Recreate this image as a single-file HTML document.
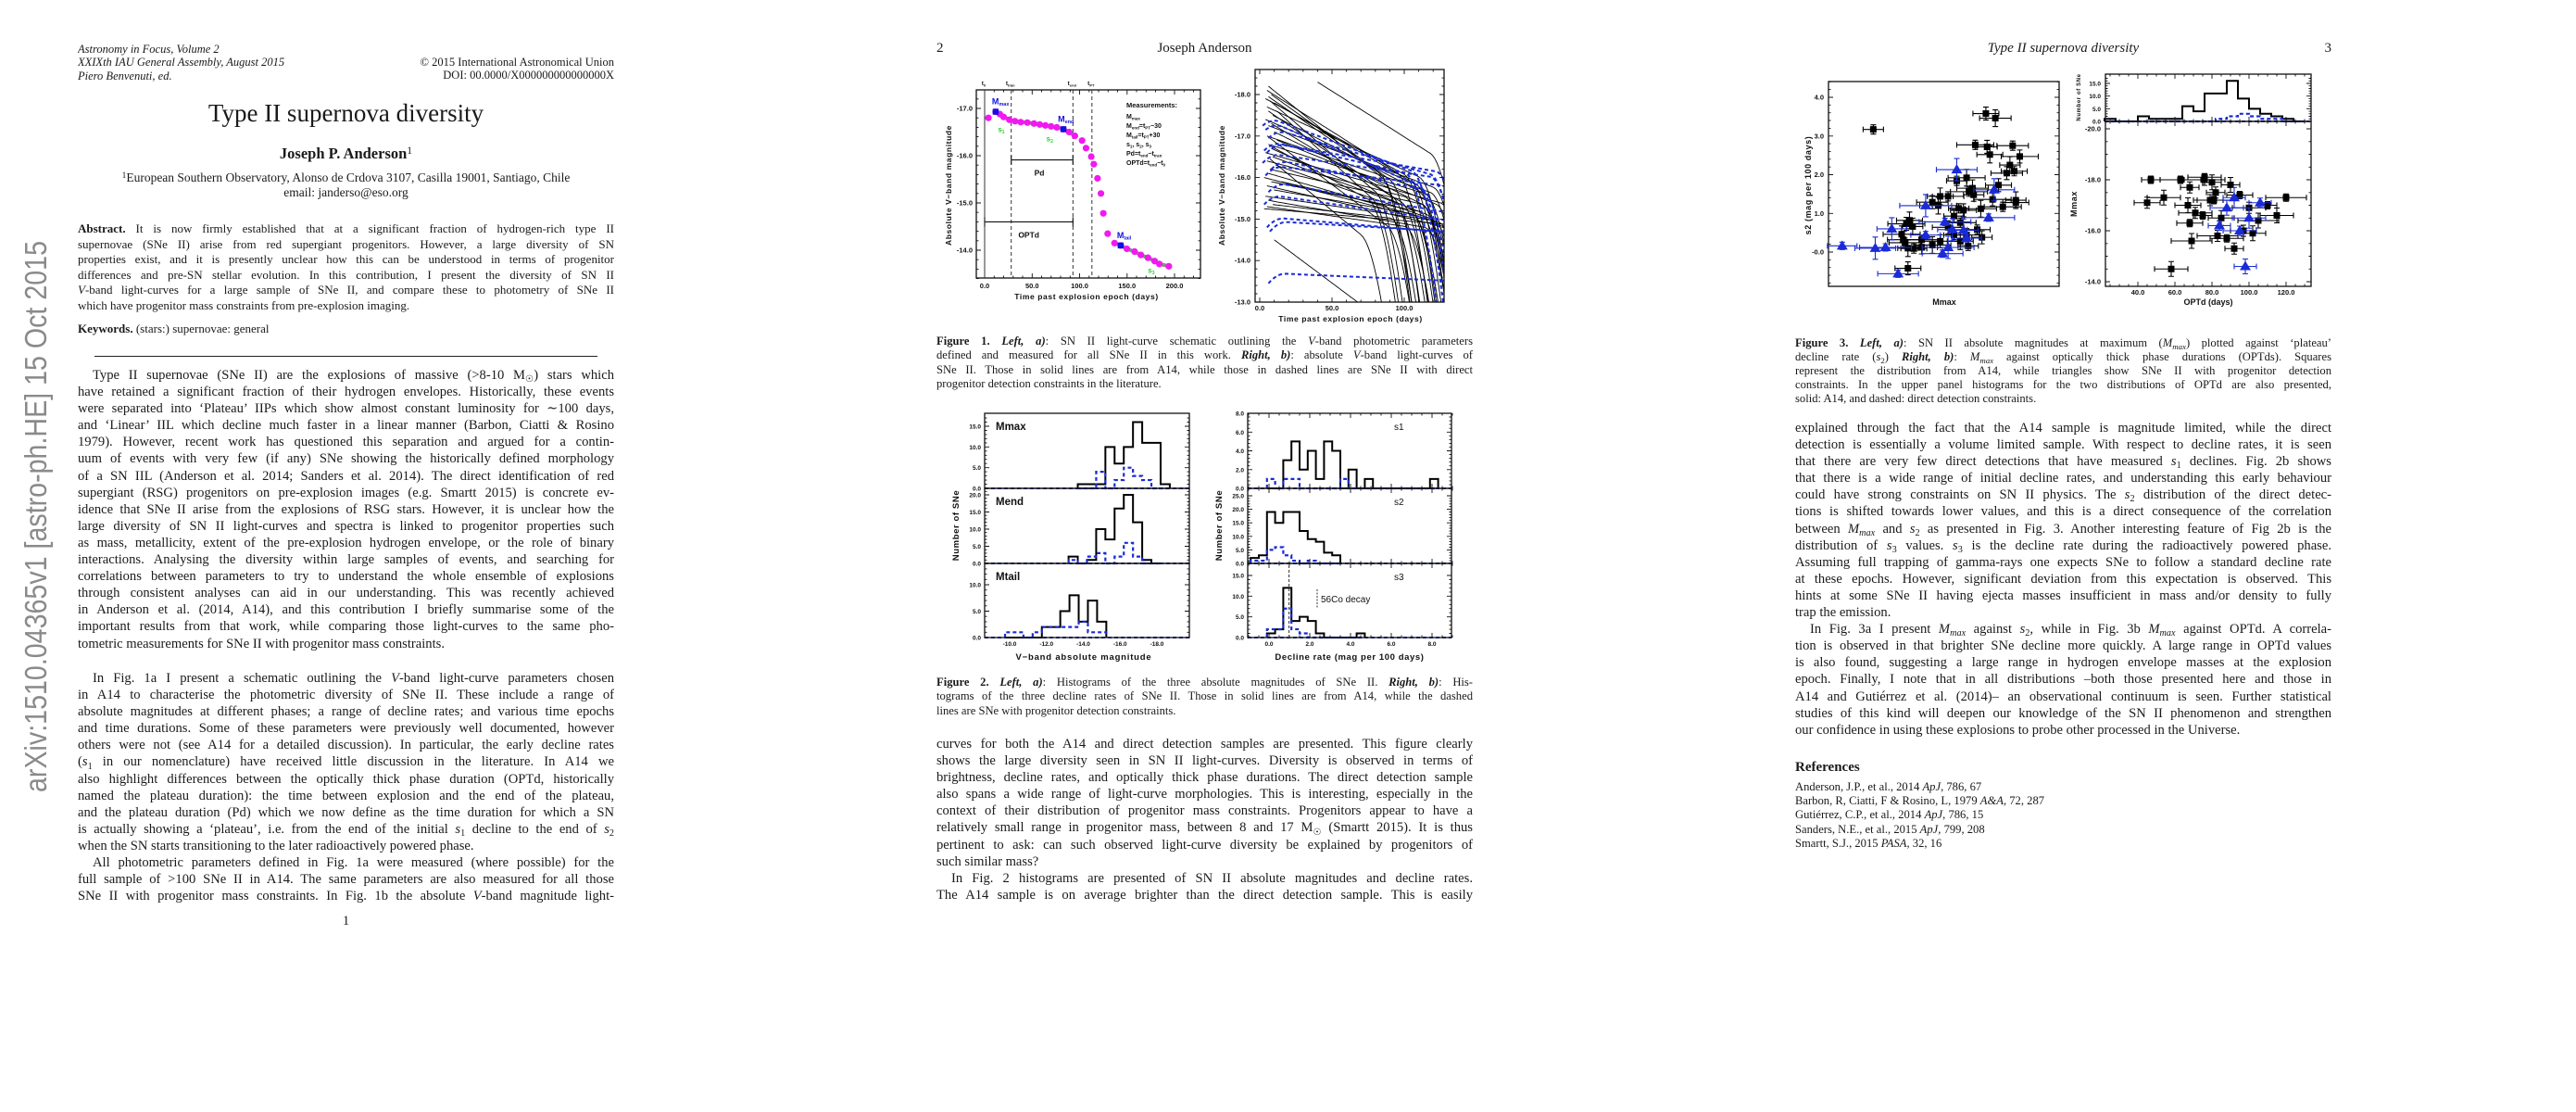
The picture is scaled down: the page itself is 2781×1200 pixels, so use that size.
<!DOCTYPE html>
<html><head><meta charset="utf-8">
<style>
html,body{margin:0;padding:0;background:#fff;}
body{width:2781px;height:1200px;position:relative;overflow:hidden;}
.p{position:absolute;font-family:"Liberation Serif","DejaVu Serif",serif;color:#1a1a1a;}
.p span{display:block;white-space:normal;overflow:hidden;text-align:justify;text-align-last:justify;}
.p span.e{text-align-last:left;}
.p span.i{text-indent:16px;}
.p sub,.p sup,.abs sub,.abs sup{font-size:70%;line-height:0;vertical-align:baseline;position:relative;}
.p sub,.abs sub{top:0.3em;}
.p sup,.abs sup{top:-0.45em;}
.b{font-weight:bold}
.it{font-style:italic}
.abs{position:absolute;font-family:"Liberation Serif",serif;color:#1a1a1a;white-space:nowrap;}
svg text{font-family:"Liberation Sans",sans-serif;}
</style></head>
<body>
<svg id="stamp" style="position:absolute;left:0;top:0" width="80" height="1200">
<text x="0" y="0" transform="translate(50,855) rotate(-90)" font-family="Liberation Serif, serif" font-size="33" fill="#8a8a8a" textLength="595" lengthAdjust="spacingAndGlyphs">arXiv:1510.04365v1  [astro-ph.HE]  15 Oct 2015</text>
</svg>

<!-- PAGE 1 -->
<div class="p it" style="left:84px;top:46px;width:300px;font-size:12.5px;line-height:14.3px;">
<span class="e">Astronomy in Focus, Volume 2</span><span class="e">XXIXth IAU General Assembly, August 2015</span><span class="e">Piero Benvenuti, ed.</span></div>
<div class="p" style="left:363px;top:60px;width:300px;font-size:12.5px;line-height:14.3px;text-align:right">
<span style="text-align:right;text-align-last:right">© 2015 International Astronomical Union</span><span style="text-align:right;text-align-last:right">DOI: 00.0000/X000000000000000X</span></div>
<div class="abs" style="left:84px;width:579px;text-align:center;top:107px;font-size:27px;">Type II supernova diversity</div>
<div class="abs b" style="left:84px;width:579px;text-align:center;top:156px;font-size:16.5px;">Joseph P. Anderson<sup style="font-weight:normal">1</sup></div>
<div class="abs" style="left:84px;width:579px;text-align:center;top:184px;font-size:13.5px;"><sup>1</sup>European Southern Observatory, Alonso de Crdova 3107, Casilla 19001, Santiago, Chile</div>
<div class="abs" style="left:84px;width:579px;text-align:center;top:200px;font-size:13.5px;">email: janderso@eso.org</div>
<div class="p" style="left:84px;top:239px;width:579px;font-size:13px;line-height:16.5px;">
<span><b>Abstract.</b> It is now firmly established that at a significant fraction of hydrogen-rich type II</span>
<span>supernovae (SNe II) arise from red supergiant progenitors. However, a large diversity of SN</span>
<span>properties exist, and it is presently unclear how this can be understood in terms of progenitor</span>
<span>differences and pre-SN stellar evolution. In this contribution, I present the diversity of SN II</span>
<span><i>V</i>-band light-curves for a large sample of SNe II, and compare these to photometry of SNe II</span>
<span class="e">which have progenitor mass constraints from pre-explosion imaging.</span></div>
<div class="abs" style="left:84px;top:347px;font-size:13px;"><b>Keywords.</b> (stars:) supernovae: general</div>
<div style="position:absolute;left:102px;top:384px;width:543px;height:1.3px;background:#222"></div>
<div class="p" style="left:84px;top:396px;width:579px;font-size:14.6px;line-height:18.1px;">
<span class="i">Type II supernovae (SNe II) are the explosions of massive (&gt;8-10 M<sub>☉</sub>) stars which</span>
<span>have retained a significant fraction of their hydrogen envelopes. Historically, these events</span>
<span>were separated into ‘Plateau’ IIPs which show almost constant luminosity for ∼100 days,</span>
<span>and ‘Linear’ IIL which decline much faster in a linear manner (Barbon, Ciatti &amp; Rosino</span>
<span>1979). However, recent work has questioned this separation and argued for a contin-</span>
<span>uum of events with very few (if any) SNe showing the historically defined morphology</span>
<span>of a SN IIL (Anderson et al. 2014; Sanders et al. 2014). The direct identification of red</span>
<span>supergiant (RSG) progenitors on pre-explosion images (e.g. Smartt 2015) is concrete ev-</span>
<span>idence that SNe II arise from the explosions of RSG stars. However, it is unclear how the</span>
<span>large diversity of SN II light-curves and spectra is linked to progenitor properties such</span>
<span>as mass, metallicity, extent of the pre-explosion hydrogen envelope, or the role of binary</span>
<span>interactions. Analysing the diversity within large samples of events, and searching for</span>
<span>correlations between parameters to try to understand the whole ensemble of explosions</span>
<span>through consistent analyses can aid in our understanding. This was recently achieved</span>
<span>in Anderson et al. (2014, A14), and this contribution I briefly summarise some of the</span>
<span>important results from that work, while comparing those light-curves to the same pho-</span>
<span class="e">tometric measurements for SNe II with progenitor mass constraints.</span></div>
<div class="p" style="left:84px;top:723px;width:579px;font-size:14.6px;line-height:18.1px;">
<span class="i">In Fig. 1a I present a schematic outlining the <i>V</i>-band light-curve parameters chosen</span>
<span>in A14 to characterise the photometric diversity of SNe II. These include a range of</span>
<span>absolute magnitudes at different phases; a range of decline rates; and various time epochs</span>
<span>and time durations. Some of these parameters were previously well documented, however</span>
<span>others were not (see A14 for a detailed discussion). In particular, the early decline rates</span>
<span>(<i>s</i><sub>1</sub> in our nomenclature) have received little discussion in the literature. In A14 we</span>
<span>also highlight differences between the optically thick phase duration (OPTd, historically</span>
<span>named the plateau duration): the time between explosion and the end of the plateau,</span>
<span>and the plateau duration (Pd) which we now define as the time duration for which a SN</span>
<span>is actually showing a ‘plateau’, i.e. from the end of the initial <i>s</i><sub>1</sub> decline to the end of <i>s</i><sub>2</sub></span>
<span class="e">when the SN starts transitioning to the later radioactively powered phase.</span>
<span class="i">All photometric parameters defined in Fig. 1a were measured (where possible) for the</span>
<span>full sample of &gt;100 SNe II in A14. The same parameters are also measured for all those</span>
<span>SNe II with progenitor mass constraints. In Fig. 1b the absolute <i>V</i>-band magnitude light-</span></div>
<div class="abs" style="left:84px;width:579px;text-align:center;top:986px;font-size:14.6px;">1</div>

<!-- PAGE 2 -->
<div class="abs" style="left:1011px;top:44px;font-size:15px;">2</div>
<div class="abs" style="left:1011px;width:579px;text-align:center;top:44px;font-size:15px;">Joseph Anderson</div>
<div class="p" style="left:1011px;top:361px;width:579px;font-size:12.6px;line-height:15.3px;">
<span><b>Figure 1.</b> <b><i>Left, a)</i></b>: SN II light-curve schematic outlining the <i>V</i>-band photometric parameters</span>
<span>defined and measured for all SNe II in this work. <b><i>Right, b)</i></b>: absolute <i>V</i>-band light-curves of</span>
<span>SNe II. Those in solid lines are from A14, while those in dashed lines are SNe II with direct</span>
<span class="e">progenitor detection constraints in the literature.</span></div>
<div class="p" style="left:1011px;top:729px;width:579px;font-size:12.6px;line-height:15.3px;">
<span><b>Figure 2.</b> <b><i>Left, a)</i></b>: Histograms of the three absolute magnitudes of SNe II. <b><i>Right, b)</i></b>: His-</span>
<span>tograms of the three decline rates of SNe II. Those in solid lines are from A14, while the dashed</span>
<span class="e">lines are SNe with progenitor detection constraints.</span></div>
<div class="p" style="left:1011px;top:794px;width:579px;font-size:14.6px;line-height:18.1px;">
<span>curves for both the A14 and direct detection samples are presented. This figure clearly</span>
<span>shows the large diversity seen in SN II light-curves. Diversity is observed in terms of</span>
<span>brightness, decline rates, and optically thick phase durations. The direct detection sample</span>
<span>also spans a wide range of light-curve morphologies. This is interesting, especially in the</span>
<span>context of their distribution of progenitor mass constraints. Progenitors appear to have a</span>
<span>relatively small range in progenitor mass, between 8 and 17 M<sub>☉</sub> (Smartt 2015). It is thus</span>
<span>pertinent to ask: can such observed light-curve diversity be explained by progenitors of</span>
<span class="e">such similar mass?</span>
<span class="i">In Fig. 2 histograms are presented of SN II absolute magnitudes and decline rates.</span>
<span>The A14 sample is on average brighter than the direct detection sample. This is easily</span></div>

<!-- PAGE 3 -->
<div class="abs it" style="left:1938px;width:579px;text-align:center;top:44px;font-size:15px;">Type II supernova diversity</div>
<div class="abs" style="left:1938px;width:579px;text-align:right;top:44px;font-size:15px;">3</div>
<div class="p" style="left:1938px;top:363px;width:579px;font-size:12.6px;line-height:15.1px;">
<span><b>Figure 3.</b> <b><i>Left, a)</i></b>: SN II absolute magnitudes at maximum (<i>M<sub>max</sub></i>) plotted against ‘plateau’</span>
<span>decline rate (<i>s</i><sub>2</sub>) <b><i>Right, b)</i></b>: <i>M<sub>max</sub></i> against optically thick phase durations (OPTds). Squares</span>
<span>represent the distribution from A14, while triangles show SNe II with progenitor detection</span>
<span>constraints. In the upper panel histograms for the two distributions of OPTd are also presented,</span>
<span class="e">solid: A14, and dashed: direct detection constraints.</span></div>
<div class="p" style="left:1938px;top:453px;width:579px;font-size:14.6px;line-height:18.1px;">
<span>explained through the fact that the A14 sample is magnitude limited, while the direct</span>
<span>detection is essentially a volume limited sample. With respect to decline rates, it is seen</span>
<span>that there are very few direct detections that have measured <i>s</i><sub>1</sub> declines. Fig. 2b shows</span>
<span>that there is a wide range of initial decline rates, and understanding this early behaviour</span>
<span>could have strong constraints on SN II physics. The <i>s</i><sub>2</sub> distribution of the direct detec-</span>
<span>tions is shifted towards lower values, and this is a direct consequence of the correlation</span>
<span>between <i>M<sub>max</sub></i> and <i>s</i><sub>2</sub> as presented in Fig. 3. Another interesting feature of Fig 2b is the</span>
<span>distribution of <i>s</i><sub>3</sub> values. <i>s</i><sub>3</sub> is the decline rate during the radioactively powered phase.</span>
<span>Assuming full trapping of gamma-rays one expects SNe to follow a standard decline rate</span>
<span>at these epochs. However, significant deviation from this expectation is observed. This</span>
<span>hints at some SNe II having ejecta masses insufficient in mass and/or density to fully</span>
<span class="e">trap the emission.</span>
<span class="i">In Fig. 3a I present <i>M<sub>max</sub></i> against <i>s</i><sub>2</sub>, while in Fig. 3b <i>M<sub>max</sub></i> against OPTd. A correla-</span>
<span>tion is observed in that brighter SNe decline more quickly. A large range in OPTd values</span>
<span>is also found, suggesting a large range in hydrogen envelope masses at the explosion</span>
<span>epoch. Finally, I note that in all distributions –both those presented here and those in</span>
<span>A14 and Gutiérrez et al. (2014)– an observational continuum is seen. Further statistical</span>
<span>studies of this kind will deepen our knowledge of the SN II phenomenon and strengthen</span>
<span class="e">our confidence in using these explosions to probe other processed in the Universe.</span></div>
<div class="abs b" style="left:1938px;top:820px;font-size:15px;">References</div>
<div class="p" style="left:1938px;top:842px;width:579px;font-size:12.6px;line-height:15.2px;">
<span class="e">Anderson, J.P., et al., 2014 <i>ApJ</i>, 786, 67</span>
<span class="e">Barbon, R, Ciatti, F &amp; Rosino, L, 1979 <i>A&amp;A</i>, 72, 287</span>
<span class="e">Gutiérrez, C.P., et al., 2014 <i>ApJ</i>, 786, 15</span>
<span class="e">Sanders, N.E., et al., 2015 <i>ApJ</i>, 799, 208</span>
<span class="e">Smartt, S.J., 2015 <i>PASA</i>, 32, 16</span></div>

<svg id="charts" style="position:absolute;left:0;top:0" width="2781" height="1200" xmlns="http://www.w3.org/2000/svg">
<defs>
<clipPath id="clip1b"><rect x="1355" y="75" width="204" height="251"/></clipPath>
</defs>
</svg>

<script>
// ---------- DATA ----------
// Fig 1a schematic light curve
const fig1aT=[4,11.6,16,20,26,32,38,45,52,58,64,70,76,83,89,95,102.6,106.8,112.3,115,118.9,122.5,125,129.6,136.8,143.3,149.8,158,164.5,172,179,184,194];
const fig1aM=[-16.8,-16.93,-16.88,-16.82,-16.76,-16.73,-16.71,-16.7,-16.68,-16.66,-16.64,-16.62,-16.6,-16.56,-16.5,-16.42,-16.32,-16.16,-15.98,-15.82,-15.52,-15.2,-14.78,-14.35,-14.15,-14.1,-14.03,-13.97,-13.9,-13.84,-13.77,-13.71,-13.66];
const fig1aEpochs=[0,28,93,113];
const fig1aEpochNames=['t0','ttran','tend','tPT'];
// Fig 1b light curves (A14 solid, direct-detection dashed)
const lcStart=[6,5,8,4,7,10,5,6,9,4,8,6,10,5,7,12,6,8,4,9,5,11,7,6,3,8,5,10,4,6,9,3,40,10,12,8,15,5,7,6];
const lcPeak=[-18.2,-18.1,-18.0,-17.9,-17.85,-17.8,-17.7,-17.6,-17.5,-17.4,-17.3,-17.25,-17.1,-17.0,-16.95,-16.9,-16.8,-16.7,-16.6,-16.5,-16.4,-16.3,-16.2,-16.1,-16.0,-15.9,-15.8,-15.7,-15.55,-15.45,-15.35,-15.25,-18.3,-14.5,-17.6,-16.75,-15.9,-15.3,-16.45,-17.95];
const lcSlope=[2.8,2.2,2.5,1.9,3.0,2.0,1.6,2.4,1.8,1.5,2.1,1.3,1.7,1.2,2.6,1.4,1.1,1.5,1.0,1.3,0.9,1.2,0.8,1.0,0.9,0.7,0.8,0.6,0.5,0.6,0.4,0.3,2.2,2.6,3.2,1.9,0.8,0.5,2.9,2.4];
const lcDrop=[85,95,90,100,80,105,110,92,115,108,98,120,112,118,88,122,110,104,125,115,100,118,112,124,96,110,126,105,120,114,90,130,118,300,78,75,86,100,70,83];
const dsStart=[2,4,6,3,5,2,8,4,6,3,5,7,6];
const dsPeak=[-17.5,-17.4,-17.2,-16.9,-16.85,-16.6,-16.45,-16.3,-15.9,-15.6,-15.05,-14.95,-13.7];
const dsSlope=[1.3,1.5,1.0,0.8,0.6,0.5,0.7,0.4,0.6,0.5,0.3,0.2,0.15];
const dsDrop=[105,110,118,100,122,118,112,126,130,128,140,135,300];
// Fig 2 histograms (bin start, bin width, counts)
const mmaxStart=-13.7, mmaxSolid=[1,1,1,10,6,10,16,11,11,1], mmaxDashed=[0,0,4,0,2,5,3,2,0,0];
const mendStart=-13.2, mendSolid=[2,0,1,10,7,16,20,12,1,0], mendDashed=[1,0,2,3,0,2,6,2,0,0];
const mtailStart=-9.75, mtailSolid=[0,0,0,0,2,2,5,8,3,7,3], mtailDashed=[1,1,0,1,2,2,2,2,3,1,1];
const magBinWidth=0.5;
const s1Start=-0.1, s1Solid=[0,0,3,5,2,4,1,5,4,0,2,0,1,0,0,0,0,0,0,0,1], s1Dashed=[1,0,1,1,0,0,0,0,0,1,0,0,0,0,0,0,0,0,0,0,0];
const s2Start=-0.9, s2Solid=[2,3,19,15,19,19,12,9,8,4,3], s2Dashed=[1,1,5,6,3,1,0,1,0,0,0];
const s3Start=-0.1, s3Solid=[1,2,12,4,5,4,1,0,0,0,0,1], s3Dashed=[2,2,7,2,1,0,0,0,0,0,0,0];
const rateBinWidth=0.4;
const s3Standard=0.98;
// Fig 3a Mmax vs s2
const a14Mmax=[-14.55,-17.41,-17.65,-17.14,-17.44,-17.51,-18.09,-18.27,-18.02,-18.13,-17.94,-16.92,-16.67,-17.73,-17.07,-16.98,-17.1,-16.25,-16.45,-17.58,-18.17,-18.17,-16.05,-16.2,-16.72,-16.84,-17.28,-17.84,-16.6,-15.47,-16.76,-15.39,-15.55,-17.19,-16.45,-15.27,-16.6,-16.92,-15.31,-15.78,-17.31,-16.76,-15.35,-16.25,-15.43,-15.58,-15.78,-16.05,-16.96,-15.43];
const a14S2=[3.17,3.58,3.46,2.77,2.72,2.52,2.75,2.47,2.25,2.09,2.04,1.92,1.84,1.73,1.65,1.56,1.48,1.44,1.44,1.36,1.34,1.28,1.29,1.2,1.13,1.08,1.12,1.17,0.93,0.82,0.76,0.73,0.66,0.58,0.64,0.46,0.44,0.44,0.32,0.32,0.38,0.28,0.24,0.28,0.1,0.09,0.12,0.18,0.16,-0.42];
const ddMmax=[-13.76,-14.6,-14.86,-15.02,-15.18,-15.88,-15.88,-16.67,-16.37,-16.56,-16.31,-16.45,-16.92,-17.62,-17.48,-16.84];
const ddS2=[0.16,0.1,0.12,0.6,-0.56,1.2,0.44,2.13,0.78,0.58,-0.04,0.12,0.36,1.61,0.89,0.56];
// Fig 3b Mmax vs OPTd
const a14Optd=[47,45,54,63,68,67,76,76,80,68,71,69,75,79,58,81,82,85,88,83,90,95,100,105,110,97,115,120,92,102];
const a14Mmax2=[-18.0,-17.1,-17.3,-18.0,-17.7,-17.0,-18.1,-18.0,-17.9,-16.3,-16.7,-15.6,-16.6,-17.2,-14.5,-17.2,-17.5,-16.5,-15.7,-15.8,-17.8,-17.4,-16.9,-16.4,-17.0,-16.0,-16.6,-17.3,-15.3,-15.9];
const ddOptd=[84,88,92,95,98,100,106];
const ddMmax2=[-16.2,-16.9,-17.3,-16.0,-14.6,-16.5,-17.1];
const optdStart=22, optdWidth=6;
const optdSolid=[1,0,0,2,1,1,1,6,4,11,11,16,9,5,3,2,1,0];
const optdDashed=[0,0,0,0,0,0,0,0,0,0,1,2,3,2,1,1,0,0];

// ---------- HELPERS ----------
const NS='http://www.w3.org/2000/svg';
const svg=document.getElementById('charts');
function mk(tag,attrs,parent){const e=document.createElementNS(NS,tag);for(const k in attrs)e.setAttribute(k,attrs[k]);(parent||svg).appendChild(e);return e;}
function lin(d0,d1,p0,p1){return v=>p0+(v-d0)*(p1-p0)/(d1-d0);}
function txt(str,x,y,size,parent,anchor){const t=mk('text',{x:x,y:y,'font-size':size,'text-anchor':anchor||'middle','font-weight':'bold',fill:'#111'},parent);t.textContent=str;return t;}
function group(name){const g=mk('g',{});return g;}
function frame(g,x0,y0,x1,y1){const r=mk('rect',{x:x0,y:y0,width:x1-x0,height:y1-y0,fill:'none',stroke:'#111','stroke-width':1.3},g);

}
function xTicks(g,sc,lo,hi,major,minor,y0,y1,labY,fs,fmt){let d='';
 for(let v=Math.ceil(lo/minor)*minor;v<=hi+1e-9;v+=minor){const x=sc(v).toFixed(1);const isM=Math.abs(v/major-Math.round(v/major))<1e-6;const L=isM?5:2.5;d+=`M${x} ${y1}v${-L}M${x} ${y0}v${L}`;
  if(isM&&labY){const t=txt(fmt?fmt(v):v.toFixed(1),sc(v),labY,fs,g);
   
   }}
 const p=mk('path',{d:d,stroke:'#111','stroke-width':0.9,fill:'none'},g);
 
 }
function yTicks(g,sc,lo,hi,major,minor,x0,x1,labX,fs,labels){let d='';
 for(let v=Math.ceil(lo/minor)*minor;v<=hi+1e-9;v+=minor){const y=sc(v).toFixed(1);const isM=Math.abs(v/major-Math.round(v/major))<1e-6;const L=isM?5:2.5;d+=`M${x0} ${y}h${L}M${x1} ${y}h${-L}`;
  if(isM&&labels){const t=txt(v.toFixed(1),labX,sc(v)+2.5,fs,g,'end');
   
   }}
 const p=mk('path',{d:d,stroke:'#111','stroke-width':0.9,fill:'none'},g);
 
 }
function vtitle(g,str,x,y,fs,name){const t=mk('text',{x:0,y:0,transform:`translate(${x},${y}) rotate(-90)`,'font-size':fs,'text-anchor':'middle','font-weight':'bold',fill:'#111','letter-spacing':'0.6'},g);t.textContent=str;
 
 }
function hist(g,xs,ys,start,width,counts,dashed,name){let d=`M${xs(start)} ${ys(0)}`;
 counts.forEach((c,i)=>{d+=`L${xs(start+i*width)} ${ys(c)}L${xs(start+(i+1)*width)} ${ys(c)}`;});
 d+=`L${xs(start+counts.length*width)} ${ys(0)}`;
 const p=mk('path',{d:d,fill:'none',stroke:dashed?'#1a2bd6':'#000','stroke-width':dashed?2.2:2,'stroke-dasharray':dashed?'4 3':'none'},g);
 
 }

// ---------- FIGURE 1a ----------
(function(){
const g=group('figure-1a-schematic');
const xs=lin(0,200,1063,1268), ys=lin(-17,-14,117,270);
frame(g,1054,97,1296,300);
xTicks(g,xs,-8,226,50,10,97,300,311,7.5);
yTicks(g,ys,-17.4,-13.4,1,0.2,1054,1296,1050,7.5,true);
fig1aEpochs.forEach((t,i)=>{const l=mk('line',{x1:xs(t),x2:xs(t),y1:97,y2:300,stroke:'#333','stroke-width':1,'stroke-dasharray':i===0?'none':'4 3'},g);
 
 
 const lab=txt(fig1aEpochNames[i].charAt(0),xs(t)-1,92,6.5,g,'middle');
 
 
 const sub=mk('tspan',{'font-size':4,dy:1.5},lab);sub.textContent=fig1aEpochNames[i].slice(1);});
function seg(t0,t1,name){const pts=[];fig1aT.forEach((t,i)=>{if(t>=t0&&t<=t1)pts.push(xs(t)+','+ys(fig1aM[i]));});
 const p=mk('polyline',{points:pts.join(' '),fill:'none',stroke:'#8a8a8a','stroke-width':4},g);
 
 
 const q=mk('polyline',{points:pts.join(' '),fill:'none',stroke:'#3ad13a','stroke-width':0.8},g);
 
 }
seg(11,28,'s1');seg(26,95,'s2');seg(136,195,'s3');
fig1aT.forEach((t,i)=>{const c=mk('circle',{cx:xs(t),cy:ys(fig1aM[i]),r:3.6,fill:'#f01af0'},g);
 
 });
[[1,'max',0,-8],[13,'end',-2,-8],[25,'tail',0,-8]].forEach(([i,nm,dx,dy])=>{const x=xs(fig1aT[i]),y=ys(fig1aM[i]);
 const r=mk('rect',{x:x-3.2,y:y-3.2,width:6.4,height:6.4,fill:'#1010e0'},g);
 
 
 const t=mk('text',{x:x+dx-4,y:y+dy,'font-size':9,fill:'#1010e0','font-weight':'bold'},g);t.textContent='M';
 
 
 const s=mk('tspan',{'font-size':5.5,dy:1.5},t);s.textContent=nm;});
[['s1',14,-16.7],['s2',65,-16.5],['s3',172,-13.72]].forEach(([n,t,m])=>{const tt=mk('text',{x:xs(t),y:ys(m)+10,'font-size':8,fill:'#2cd02c','font-weight':'bold'},g);tt.textContent=n.charAt(0);
 
 
 const s=mk('tspan',{'font-size':5,dy:1.5},tt);s.textContent=n.charAt(1);});
[[28,93,-15.91,'Pd'],[0,93,-14.6,'OPTd']].forEach(([a,b,m,n])=>{const y=ys(m);
 const p=mk('path',{d:`M${xs(a)} ${y}H${xs(b)}M${xs(a)} ${y-5}v10M${xs(b)} ${y-5}v10`,stroke:'#111','stroke-width':1.1,fill:'none'},g);
 
 
 const t=txt(n,xs((a+b)/2)+(n==='Pd'?-3:0),y+17,8.5,g);
 
 });
const meas=[['Measurements:'],['M','max'],['M','end','=t','PT','−30'],['M','tail','=t','PT','+30'],['s','1',', s','2',', s','3'],['Pd=t','end','−t','tran'],['OPTd=t','end','−t','0']];
const my=[116,128,138,148,158,168,178];
meas.forEach((parts,i)=>{const t=mk('text',{x:1216,y:my[i],'font-size':i===0?7.5:7,'font-weight':'bold',fill:'#111'},g);
 
 
 parts.forEach((s,j)=>{const sp=mk('tspan',j%2?{'font-size':4.5,dy:1.5}:{'font-size':i===0?7.5:7,dy:j?-1.5:0},t);sp.textContent=s;});});
vtitle(g,'Absolute V−band magnitude',1027,200,8.5,'y-axis-title');
const xt=txt('Time past explosion epoch (days)',1173,323,8.5,g);


xt.setAttribute('letter-spacing','0.6');
})();

// ---------- FIGURE 1b ----------
(function(){
const g=group('figure-1b-light-curves');
const xs=lin(0,100,1360,1516), ys=lin(-18,-13,102,326);
const cg=mk('g',{'clip-path':'url(#clip1b)'},g);


function curve(st,pk,sl,dr,dashed){const pts=[];
 for(let t=st;t<=130;t+=1.5){let m=pk+sl*(t-st)/100;if(dashed&&t<st+12)m+=0.25*Math.pow((st+12-t)/12,2);if(t>dr)m+=0.006*Math.pow(t-dr,2);pts.push(xs(t).toFixed(1)+','+ys(m).toFixed(1));if(m>-12.9)break;}
 return pts.join(' ');}
lcStart.forEach((s,i)=>{const p=mk('polyline',{points:curve(s,lcPeak[i],lcSlope[i],lcDrop[i],false),fill:'none',stroke:'#000','stroke-width':0.9},cg);
 
 });
dsStart.forEach((s,i)=>{const p=mk('polyline',{points:curve(s,dsPeak[i],dsSlope[i],dsDrop[i],true),fill:'none',stroke:'#1a2bd6','stroke-width':2,'stroke-dasharray':'4 3'},cg);
 
 });
frame(g,1355,75,1559,326);
xTicks(g,xs,-1,127,50,10,75,326,335,7.5);
yTicks(g,ys,-18.6,-13,1,0.2,1355,1559,1350,7.5,true);
vtitle(g,'Absolute V−band magnitude',1322,200,8.5,'y-axis-title');
const xt=txt('Time past explosion epoch (days)',1458,347,8.5,g);


xt.setAttribute('letter-spacing','0.6');
})();

// ---------- FIGURE 2 ----------
(function(){
const g=group('figure-2a-magnitude-histograms');
const xs=lin(-10,-18,1090,1249);
const panels=[['Mmax',446,527,lin(0,15,527,460),17.8,mmaxStart,mmaxSolid,mmaxDashed],
 ['Mend',527,608,lin(0,20,608,534),22,mendStart,mendSolid,mendDashed],
 ['Mtail',608,688,lin(0,10,688,631),14,mtailStart,mtailSolid,mtailDashed]];
panels.forEach(([n,y0,y1,ys,top,st,so,da])=>{
 const b=mk('line',{x1:1063,x2:1284,y1:y1,y2:y1,stroke:'#1a2bd6','stroke-width':2,'stroke-dasharray':'4 3'},g);
 
 
 hist(g,xs,ys,st,-magBinWidth,so,false,n.toLowerCase()+'-a14-histogram');
 hist(g,xs,ys,st,-magBinWidth,da,true,n.toLowerCase()+'-direct-histogram');
 frame(g,1063,y0,1284,y1);
 yTicks(g,ys,0,top,5,1,1063,1284,1059,6.5,true);
 xTicks(g,xs,-8.6,-19.7,-2,-0.5,y0,y1,null,6.5);
 const t=mk('text',{x:1075,y:y0+18,'font-size':11.5,'font-weight':'bold',fill:'#111'},g);t.textContent=n;
 
 });
[-10,-12,-14,-16,-18].forEach(v=>{const t=txt(v.toFixed(1),xs(v),697,6.5,g);
 
 });
vtitle(g,'Number of SNe',1035,567,9.5,'y-axis-title');
const xt=txt('V−band absolute magnitude',1170,712,9.5,g);


xt.setAttribute('letter-spacing','0.8');

const h=group('figure-2b-decline-histograms');
const rx=lin(0,2,1370,1414);
const rp=[['s1',446,527,lin(0,8,527,446),8,2,s1Start,s1Solid,s1Dashed],
 ['s2',527,608,lin(0,25,608,535),25,5,s2Start,s2Solid,s2Dashed],
 ['s3',608,688,lin(0,15,688,621),15,5,s3Start,s3Solid,s3Dashed]];
rp.forEach(([n,y0,y1,ys,top,maj,st,so,da])=>{
 const b=mk('line',{x1:1347,x2:1567,y1:y1,y2:y1,stroke:'#1a2bd6','stroke-width':2,'stroke-dasharray':'4 3'},h);
 
 
 hist(h,rx,ys,st,rateBinWidth,so,false,n+'-a14-histogram');
 hist(h,rx,ys,st,rateBinWidth,da,true,n+'-direct-histogram');
 frame(h,1347,y0,1567,y1);
 yTicks(h,ys,0,top,maj,maj/5,1347,1567,1343,6.5,true);
 xTicks(h,rx,-1,9,2,0.5,y0,y1,null,6.5);
 const t=mk('text',{x:1505,y:y0+18,'font-size':10,fill:'#111'},h);t.textContent=n;
 
 });
const vl=mk('line',{x1:rx(s3Standard),x2:rx(s3Standard),y1:610,y2:688,stroke:'#555','stroke-width':1.3,'stroke-dasharray':'3 2'},h);


const kl=mk('line',{x1:1422,x2:1422,y1:636,y2:656,stroke:'#333','stroke-width':1,'stroke-dasharray':'2 1.5'},h);


const kt=mk('text',{x:1426,y:650,'font-size':10,fill:'#111'},h);kt.textContent='56Co decay';


[0,2,4,6,8].forEach(v=>{const t=txt(v.toFixed(1),rx(v),697,6.5,h);
 
 });
vtitle(h,'Number of SNe',1319,567,9.5,'y-axis-title');
const rt=txt('Decline rate (mag per 100 days)',1457,712,9.5,h);


rt.setAttribute('letter-spacing','0.6');
})();

// ---------- FIGURE 3 ----------
function errPoint(g,x,y,ex,ey,color,tri,name){
 const p=mk('path',{d:`M${x-ex} ${y}H${x+ex}M${x-ex} ${y-3}v6M${x+ex} ${y-3}v6M${x} ${y-ey}V${y+ey}M${x-3} ${y-ey}h6M${x-3} ${y+ey}h6`,stroke:color,'stroke-width':1.1,fill:'none'},g);
 
 
 let m;
 if(tri){m=mk('polygon',{points:`${x},${y-6} ${x-6},${y+4} ${x+6},${y+4}`,fill:color},g);}
 else{m=mk('rect',{x:x-3.5,y:y-3.5,width:7,height:7,fill:color},g);}
 
 }
(function(){
const g=group('figure-3a-mmax-vs-s2');
const xs=lin(-14,-18,1999,2169), ys=lin(0,4,272,105);
frame(g,1974,88,2223,309);
xTicks(g,xs,-13.4,-19.2,-2,-0.2,88,309,318,7.5);
yTicks(g,ys,-0.88,4.4,1,0.2,1974,2223,1969,7.5,true);
a14Mmax.forEach((m,i)=>errPoint(g,xs(m),ys(a14S2[i]),11+(i%4)*3,5+(i%3)*2,'#000',false,'a14-point'));
ddMmax.forEach((m,i)=>errPoint(g,xs(ddMmax[i]),ys(ddS2[i]),16+(i%3)*6,4+(i%2)*8,'#1a2bd6',true,'direct-point'));
vtitle(g,'s2 (mag per 100 days)',1955,200,9,'y-axis-title');
const xt=txt('Mmax',2099,329,9,g);


})();
(function(){
const g=group('figure-3b-mmax-vs-optd');
const xs=lin(40,60,2308,2348), ys=lin(-18,-16,194,249), hy=lin(0,15,131,90);
const b=mk('line',{x1:2273,x2:2495,y1:131,y2:131,stroke:'#1a2bd6','stroke-width':2,'stroke-dasharray':'4 3'},g);


hist(g,xs,hy,optdStart,optdWidth,optdSolid,false,'optd-a14-histogram');
hist(g,xs,hy,optdStart,optdWidth,optdDashed,true,'optd-direct-histogram');
frame(g,2273,80,2495,131);
yTicks(g,hy,0,17,5,1,2273,2495,2268,6.5,true);
xTicks(g,xs,23,133,20,5,80,131,null,7);
frame(g,2273,131,2495,309);
xTicks(g,xs,23,133,20,5,131,309,318,7.5);
yTicks(g,ys,-20.3,-13.8,2,0.5,2273,2495,2268,7.5,true);
a14Optd.forEach((o,i)=>errPoint(g,xs(o),ys(a14Mmax2[i]),10+(i%4)*4,4+(i%3)*2,'#000',false,'a14-point'));
ddOptd.forEach((o,i)=>errPoint(g,xs(o),ys(ddMmax2[i]),12+(i%2)*6,5+(i%3)*3,'#1a2bd6',true,'direct-point'));
vtitle(g,'Mmax',2242,220,9,'y-axis-title');
vtitle(g,'Number of SNe',2246,105,6,'histogram-y-axis-title');
const xt=txt('OPTd (days)',2384,329,9,g);


})();
</script>
</body></html>
